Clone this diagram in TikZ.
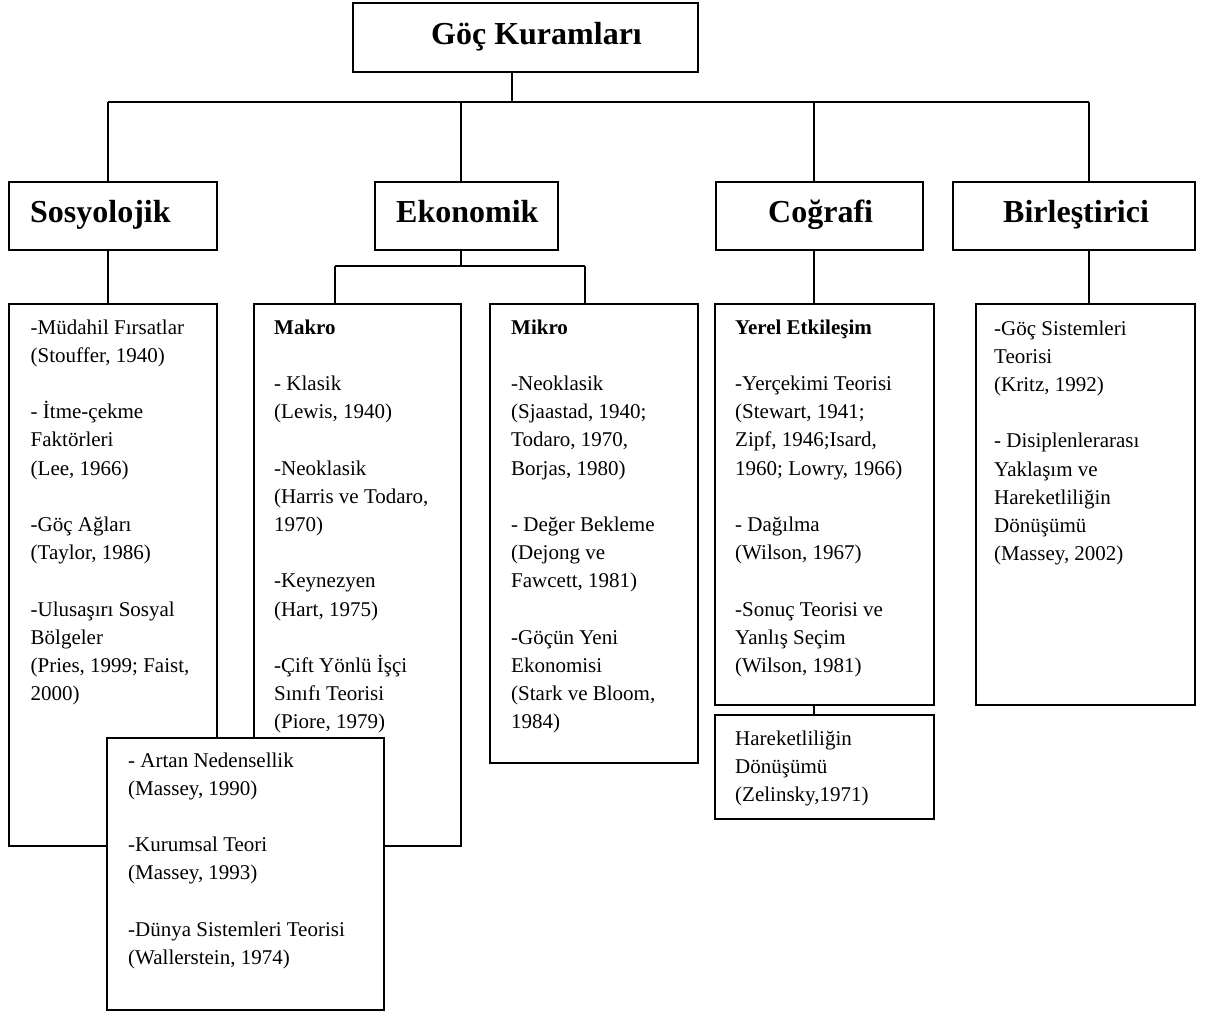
\documentclass[tikz,border=0pt]{standalone}
\usepackage{fontspec}
\setmainfont{Liberation Serif}
\usetikzlibrary{calc}
\newcommand\txtblk[1]{\begin{tabular}[t]{@{}l@{}}#1\end{tabular}}
\begin{document}
\begin{tikzpicture}[x=1pt,y=-1pt,
  box/.style={draw=black, line width=2pt, fill=white, rectangle, inner sep=0pt, outer sep=0pt},
  conn/.style={draw=black, line width=1.5pt},
  head/.style={anchor=base west, inner sep=0pt, font=\fontsize{32}{38}\selectfont\bfseries},
  body/.style={anchor=base west, inner sep=0pt, font=\fontsize{21}{28.2}\selectfont}]
\useasboundingbox[fill=white] (0,0) rectangle (1214,1012);

% boxes
\node[box, minimum width=345pt, minimum height=69pt] (top) at (525.5,37.5) {};
\node[box, minimum width=208pt, minimum height=68pt] (soc) at (113,216) {};
\node[box, minimum width=183pt, minimum height=68pt] (eko) at (466.5,216) {};
\node[box, minimum width=207pt, minimum height=68pt] (cog) at (819.5,216) {};
\node[box, minimum width=242pt, minimum height=68pt] (bir) at (1074,216) {};
\node[box, minimum width=208pt, minimum height=542pt] (socL) at (113,575) {};
\node[box, minimum width=207pt, minimum height=542pt] (makro) at (357.5,575) {};
\node[box, minimum width=208pt, minimum height=459pt] (mikro) at (594,533.5) {};
\node[box, minimum width=219pt, minimum height=401pt] (yerel) at (824.5,504.5) {};
\node[box, minimum width=219pt, minimum height=104pt] (hare) at (824.5,767) {};
\node[box, minimum width=219pt, minimum height=401pt] (birL) at (1085.5,504.5) {};
\node[box, minimum width=277pt, minimum height=272pt] (over) at (245.5,874) {};

% connectors
\coordinate (j0) at (512,102);
\coordinate (bL) at (108,102);
\coordinate (bE) at (461,102);
\coordinate (bC) at (814,102);
\coordinate (bR) at (1089,102);
\draw[conn] (top.south -| j0) -- (j0);
\draw[conn] (bL) -- (bR);
\draw[conn] (bL) -- (bL |- soc.north);
\draw[conn] (bE) -- (bE |- eko.north);
\draw[conn] (bC) -- (bC |- cog.north);
\draw[conn] (bR) -- (bR |- bir.north);
\draw[conn] (bL |- soc.south) -- (bL |- socL.north);
\coordinate (e0) at (461,266);
\coordinate (eL) at (335,266);
\coordinate (eR) at (585,266);
\draw[conn] (e0 |- eko.south) -- (e0);
\draw[conn] (eL) -- (eR);
\draw[conn] (eL) -- (eL |- makro.north);
\draw[conn] (eR) -- (eR |- mikro.north);
\draw[conn] (bC |- cog.south) -- (bC |- yerel.north);
\draw[conn] (bR |- bir.south) -- (bR |- birL.north);
\draw[conn] (bC |- yerel.south) -- (bC |- hare.north);

% headings
\node[head] (tTop) at (431,44) {Göç Kuramları};
\node[head] (tSoc) at (30,222) {Sosyolojik};
\node[head] (tEko) at (396,222) {Ekonomik};
\node[head] (tCog) at (768,222) {Coğrafi};
\node[head] (tBir) at (1003,222) {Birleştirici};

% body texts
\node[body] (xSoc) at (30.5,334) {\txtblk{-Müdahil Fırsatlar\\(Stouffer, 1940)\\ \\- İtme-çekme\\Faktörleri\\(Lee, 1966)\\ \\-Göç Ağları\\(Taylor, 1986)\\ \\-Ulusaşırı Sosyal\\Bölgeler\\(Pries, 1999; Faist,\\2000)}};
\node[body] (xMak) at (274,334) {\txtblk{\textbf{Makro}\\ \\- Klasik\\(Lewis, 1940)\\ \\-Neoklasik\\(Harris ve Todaro,\\1970)\\ \\-Keynezyen\\(Hart, 1975)\\ \\-Çift Yönlü İşçi\\Sınıfı Teorisi\\(Piore, 1979)}};
\node[body] (xMik) at (511,334) {\txtblk{\textbf{Mikro}\\ \\-Neoklasik\\(Sjaastad, 1940;\\Todaro, 1970,\\Borjas, 1980)\\ \\- Değer Bekleme\\(Dejong ve\\Fawcett, 1981)\\ \\-Göçün Yeni\\Ekonomisi\\(Stark ve Bloom,\\1984)}};
\node[body] (xYer) at (735,334) {\txtblk{\textbf{Yerel Etkileşim}\\ \\-Yerçekimi Teorisi\\(Stewart, 1941;\\Zipf, 1946;Isard,\\1960; Lowry, 1966)\\ \\- Dağılma\\(Wilson, 1967)\\ \\-Sonuç Teorisi ve\\Yanlış Seçim\\(Wilson, 1981)}};
\node[body] (xHar) at (735,745) {\txtblk{Hareketliliğin\\Dönüşümü\\(Zelinsky,1971)}};
\node[body] (xBir) at (994,335) {\txtblk{-Göç Sistemleri\\Teorisi\\(Kritz, 1992)\\ \\- Disiplenlerarası\\Yaklaşım ve\\Hareketliliğin\\Dönüşümü\\(Massey, 2002)}};
\node[body] (xOve) at (128,767) {\txtblk{- Artan Nedensellik\\(Massey, 1990)\\ \\-Kurumsal Teori\\(Massey, 1993)\\ \\-Dünya Sistemleri Teorisi\\(Wallerstein, 1974)}};
\end{tikzpicture}
\end{document}
